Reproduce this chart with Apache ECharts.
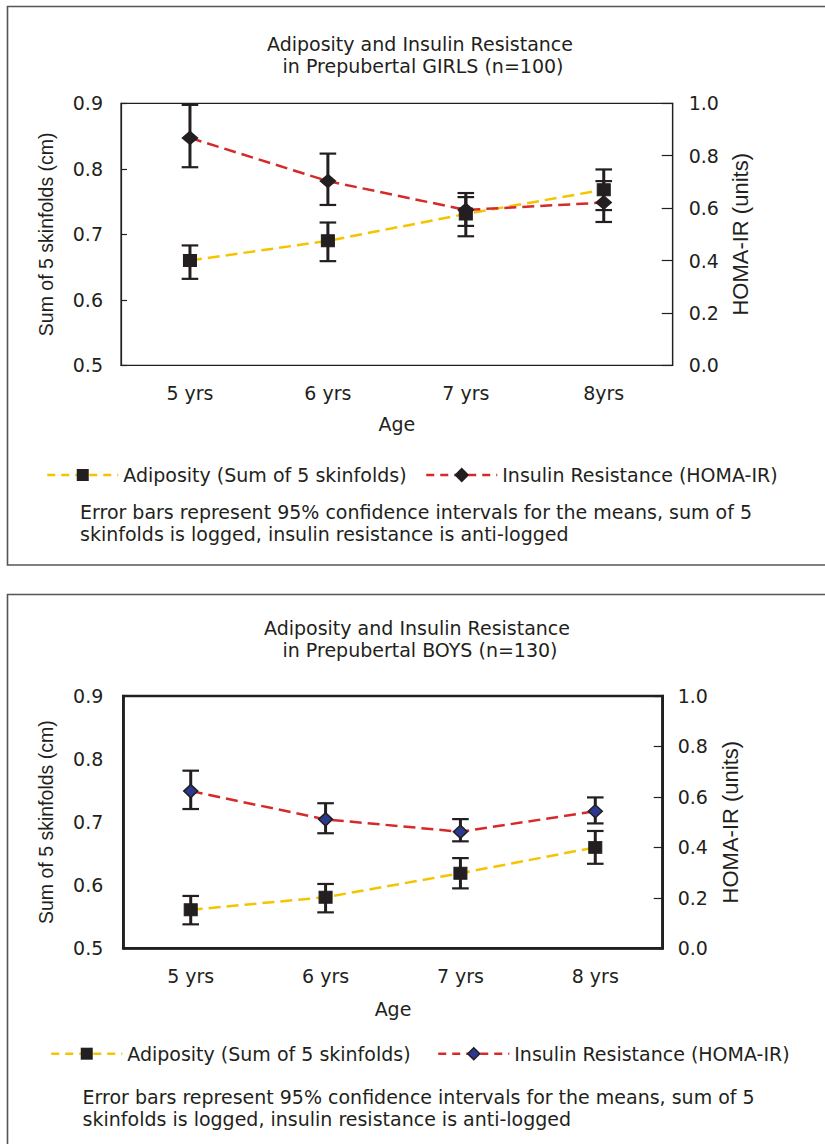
<!DOCTYPE html>
<html><head><meta charset="utf-8">
<script src="https://cdn.jsdelivr.net/npm/echarts@6/dist/echarts.min.js"></script>
<style>html,body{margin:0;padding:0;background:#fff}#c{width:825px;height:1144px}</style>
</head><body><div id="c"></div>
<script>
// ---------- data ----------
const categoriesGirls = ['5 yrs', '6 yrs', '7 yrs', '8yrs'];
const categoriesBoys  = ['5 yrs', '6 yrs', '7 yrs', '8 yrs'];

const girlsAdiposity     = [0.660, 0.690, 0.731, 0.768];
const girlsAdiposityLow  = [0.632, 0.659, 0.697, 0.737];
const girlsAdiposityHigh = [0.683, 0.718, 0.763, 0.799];
const girlsInsulin       = [0.868, 0.703, 0.593, 0.621];
const girlsInsulinLow    = [0.756, 0.612, 0.532, 0.547];
const girlsInsulinHigh   = [0.994, 0.808, 0.642, 0.703];

const boysAdiposity      = [0.561, 0.581, 0.619, 0.660];
const boysAdiposityLow   = [0.538, 0.557, 0.595, 0.634];
const boysAdiposityHigh  = [0.583, 0.602, 0.643, 0.686];
const boysInsulin        = [0.623, 0.511, 0.462, 0.543];
const boysInsulinLow     = [0.552, 0.456, 0.424, 0.495];
const boysInsulinHigh    = [0.704, 0.575, 0.512, 0.598];

const leftAxisRange  = [0.5, 0.9, 0.1];
const rightAxisRange = [0.0, 1.0, 0.2];

const SERIES_A = 'Adiposity (Sum of 5 skinfolds)';
const SERIES_B = 'Insulin Resistance (HOMA-IR)';
const titleGirls = 'Adiposity and Insulin Resistance\n in Prepubertal GIRLS (n=100)';
const titleBoys  = 'Adiposity and Insulin Resistance\n in Prepubertal BOYS (n=130)';
const noteText = 'Error bars represent 95% confidence intervals for the means, sum of 5\nskinfolds is logged, insulin resistance is anti-logged';
const xName = 'Age';
const yLeftName = 'Sum of 5 skinfolds (cm)';
const yRightName = 'HOMA-IR (units)';

// ---------- styles ----------
const INK = '#231f20';
const YELLOW = '#f5c400';
const RED = '#d62a2a';
const BLUE = '#2b3990';
const FONT = 'DejaVu Sans';
const NAMEFONT = 'Liberation Sans';
const FS = 19;

const chart = echarts.init(document.getElementById('c'), null, {renderer: 'svg'});

function errRender(params, api) {
  const x = api.value(0), lo = api.value(1), hi = api.value(2);
  const pLo = api.coord([x, lo]), pHi = api.coord([x, hi]);
  const hw = 8.3;
  return {
    type: 'group',
    children: [
      {type: 'line', shape: {x1: pLo[0], y1: pLo[1], x2: pHi[0], y2: pHi[1]}, style: {stroke: INK, lineWidth: 3}},
      {type: 'line', shape: {x1: pLo[0] - hw, y1: pLo[1], x2: pLo[0] + hw, y2: pLo[1]}, style: {stroke: INK, lineWidth: 2.2}},
      {type: 'line', shape: {x1: pHi[0] - hw, y1: pHi[1], x2: pHi[0] + hw, y2: pHi[1]}, style: {stroke: INK, lineWidth: 2.2}}
    ]
  };
}
function errData(lo, hi) { return lo.map((v, i) => [i, v, hi[i]]); }
const fmt1 = v => v.toFixed(1);

function yAxisDef(grid, range, pos, opts) {
  return Object.assign({
    type: 'value', gridIndex: grid, position: pos,
    min: range[0], max: range[1], interval: range[2],
    splitLine: {show: false},
    axisLine: {show: true, lineStyle: {color: INK, width: 1.2}},
    axisTick: {show: true, length: 5, lineStyle: {color: INK, width: 1.2}},
    axisLabel: {formatter: fmt1, fontSize: FS, fontFamily: FONT, color: INK, margin: 18}
  }, opts || {});
}
function tickOnlyY(grid, range, pos, len, w) {
  return {
    type: 'value', gridIndex: grid, position: pos,
    min: range[0], max: range[1], interval: range[2],
    splitLine: {show: false}, axisLine: {show: false}, axisLabel: {show: false},
    axisTick: {show: true, inside: true, length: len, lineStyle: {color: INK, width: w}}
  };
}

const lineA = (name, x, y, data) => ({
  name, type: 'line', xAxisIndex: x, yAxisIndex: y, data,
  symbol: 'rect', symbolSize: [13, 12], z: 3,
  itemStyle: {color: INK, borderColor: INK},
  lineStyle: {color: YELLOW, width: 2.5, type: [12, 6]}
});
const lineB = (name, x, y, data, fill, size) => ({
  name, type: 'line', xAxisIndex: x, yAxisIndex: y, data,
  symbol: 'diamond', symbolSize: size, z: 3,
  itemStyle: {color: fill, borderColor: INK, borderWidth: 1.5},
  lineStyle: {color: RED, width: 2.5, type: [12, 6]}
});
const errSeries = (x, y, lo, hi) => ({
  type: 'custom', xAxisIndex: x, yAxisIndex: y, renderItem: errRender,
  encode: {x: 0, y: [1, 2]}, data: errData(lo, hi), z: 2, silent: true
});

const legendText = {fontSize: FS, fontFamily: FONT, color: INK};
function legendDef(left, top, item) {
  return {
    left, top, padding: 0, itemWidth: 71, itemHeight: 15, selectedMode: false,
    data: [item], textStyle: legendText,
    lineStyle: {width: 2.5, type: [8, 6]}
  };
}

const option = {
  animation: false,
  backgroundColor: '#fff',
  title: [
    {text: titleGirls, left: 415, top: 28, textAlign: 'center',
     textStyle: {fontSize: FS, fontWeight: 'normal', fontFamily: FONT, color: INK, lineHeight: 22}},
    {text: titleBoys, left: 412, top: 612, textAlign: 'center',
     textStyle: {fontSize: FS, fontWeight: 'normal', fontFamily: FONT, color: INK, lineHeight: 22}}
  ],
  grid: [
    {left: 121, right: 152.3, top: 103.3, height: 262, show: true, borderColor: INK, borderWidth: 1.2, backgroundColor: 'transparent'},
    {left: 123.3, right: 162.3, top: 696, height: 252.3, show: true, borderColor: INK, borderWidth: 2.6, backgroundColor: 'transparent'}
  ],
  xAxis: [
    {type: 'category', gridIndex: 0, position: 'bottom', data: categoriesGirls, boundaryGap: true,
     axisLine: {lineStyle: {color: INK, width: 1.2}},
     axisTick: {length: 6, lineStyle: {color: INK, width: 1.2}},
     axisLabel: {fontSize: FS, fontFamily: FONT, color: INK, margin: 18},
     name: xName, nameLocation: 'middle', nameGap: 49,
     nameTextStyle: {fontSize: FS, fontFamily: FONT, color: INK}},
    {type: 'category', gridIndex: 0, position: 'bottom', data: categoriesGirls, boundaryGap: true,
     axisLine: {show: false}, axisLabel: {show: false},
     axisTick: {inside: true, length: 5, lineStyle: {color: INK, width: 1.2}}},
    {type: 'category', gridIndex: 1, position: 'bottom', data: categoriesBoys, boundaryGap: true,
     axisLine: {lineStyle: {color: INK, width: 2.6}},
     axisTick: {length: 7, lineStyle: {color: INK, width: 1.2}},
     axisLabel: {fontSize: FS, fontFamily: FONT, color: INK, margin: 18.5},
     name: xName, nameLocation: 'middle', nameGap: 51,
     nameTextStyle: {fontSize: FS, fontFamily: FONT, color: INK}}
  ],
  yAxis: [
    yAxisDef(0, leftAxisRange, 'left', {
      axisTick: {length: 5, lineStyle: {color: INK, width: 1.2}},
      name: yLeftName, nameLocation: 'middle', nameRotate: 90, nameGap: 65,
      nameTextStyle: {fontSize: 19.5, fontFamily: NAMEFONT, color: INK}}),
    yAxisDef(0, rightAxisRange, 'right', {
      axisTick: {length: 6, lineStyle: {color: INK, width: 1.2}},
      axisLabel: {formatter: fmt1, fontSize: FS, fontFamily: FONT, color: INK, margin: 16},
      name: yRightName, nameLocation: 'middle', nameRotate: 90, nameGap: 56,
      nameTextStyle: {fontSize: 22, fontFamily: NAMEFONT, color: INK}}),
    tickOnlyY(0, leftAxisRange, 'left', 6, 1.2),
    tickOnlyY(0, rightAxisRange, 'right', 11, 1.2),
    yAxisDef(1, leftAxisRange, 'left', {
      axisLine: {show: true, lineStyle: {color: INK, width: 2.6}},
      axisTick: {length: 8, lineStyle: {color: INK, width: 1.2}},
      axisLabel: {formatter: fmt1, fontSize: FS, fontFamily: FONT, color: INK, margin: 20},
      name: yLeftName, nameLocation: 'middle', nameRotate: 90, nameGap: 67,
      nameTextStyle: {fontSize: 19.5, fontFamily: NAMEFONT, color: INK}}),
    yAxisDef(1, rightAxisRange, 'right', {
      axisLine: {show: true, lineStyle: {color: INK, width: 2.6}},
      axisTick: {show: false},
      axisLabel: {formatter: fmt1, fontSize: FS, fontFamily: FONT, color: INK, margin: 15},
      name: yRightName, nameLocation: 'middle', nameRotate: 90, nameGap: 57,
      nameTextStyle: {fontSize: 22, fontFamily: NAMEFONT, color: INK}}),
    tickOnlyY(1, rightAxisRange, 'right', 9, 1.2)
  ],
  legend: [
    legendDef(46, 465.5, {name: SERIES_A}),
    legendDef(425, 465.5, {name: SERIES_B}),
    legendDef(50, 1044.2, {name: SERIES_A}),
    legendDef(437, 1044.2, {name: SERIES_B, itemStyle: {color: BLUE, borderColor: INK, borderWidth: 1.5}})
  ],
  series: [
    errSeries(0, 0, girlsAdiposityLow, girlsAdiposityHigh),
    errSeries(0, 1, girlsInsulinLow, girlsInsulinHigh),
    lineA(SERIES_A, 0, 0, girlsAdiposity),
    lineB(SERIES_B, 0, 1, girlsInsulin, INK, [15, 13]),
    errSeries(2, 4, boysAdiposityLow, boysAdiposityHigh),
    errSeries(2, 5, boysInsulinLow, boysInsulinHigh),
    lineA(SERIES_A, 2, 4, boysAdiposity),
    lineB(SERIES_B, 2, 5, boysInsulin, BLUE, [14, 13])
  ],
  graphic: [
    {type: 'rect', shape: {x: 7.5, y: 6.5, width: 900, height: 558.5}, style: {fill: 'none', stroke: '#555', lineWidth: 1.6}, silent: true, z: -1},
    {type: 'rect', shape: {x: 7.5, y: 594.5, width: 900, height: 700}, style: {fill: 'none', stroke: '#555', lineWidth: 1.6}, silent: true, z: -1},
    {type: 'text', x: 80, y: 500.5, style: {text: noteText, font: FS + 'px "' + FONT + '"', fill: INK, lineHeight: 22.5, verticalAlign: 'top'}},
    {type: 'text', x: 82.6, y: 1085.5, style: {text: noteText, font: FS + 'px "' + FONT + '"', fill: INK, lineHeight: 22.5, verticalAlign: 'top'}}
  ]
};
chart.setOption(option);
</script></body></html>
